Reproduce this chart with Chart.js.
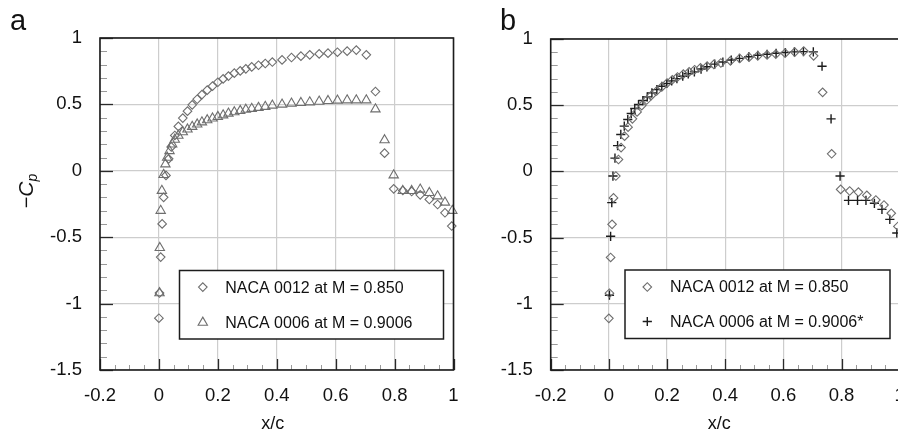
<!DOCTYPE html>
<html>
<head>
<meta charset="utf-8">
<script src="https://cdn.jsdelivr.net/npm/chart.js@4.4.1/dist/chart.umd.min.js"></script>
<style>
  html, body { margin: 0; padding: 0; background: #fff; overflow: hidden; width: 898px; height: 430px; }
  #wrap { position: relative; width: 898px; height: 430px; overflow: hidden; }
  canvas { position: absolute; top: 0; }
  #panelA { left: 0; }
  #panelB { left: 450px; }
</style>
</head>
<body>
<div id="wrap">
  <canvas id="panelA" width="460" height="430"></canvas>
  <canvas id="panelB" width="460" height="430"></canvas>
</div>
<script>
// Upper-surface pressure distributions, -Cp against x/c.

// NACA 0012 at M = 0.850
const naca0012X = [0.000, 0.002, 0.006, 0.011, 0.016, 0.024, 0.033, 0.042, 0.054, 0.066, 0.081, 0.097,
  0.113, 0.130, 0.146, 0.164, 0.182, 0.200, 0.218, 0.236, 0.256, 0.276, 0.295, 0.315, 0.338, 0.361,
  0.385, 0.418, 0.450, 0.482, 0.512, 0.544, 0.574, 0.606, 0.639, 0.670, 0.704, 0.735, 0.766, 0.797,
  0.828, 0.858, 0.887, 0.918, 0.946, 0.971, 0.994];
const naca0012Cp = [-1.11, -0.92, -0.65, -0.40, -0.20, -0.035, 0.09, 0.18, 0.266, 0.334, 0.397, 0.449,
  0.497, 0.539, 0.574, 0.607, 0.638, 0.667, 0.692, 0.713, 0.735, 0.752, 0.768, 0.782, 0.795, 0.808,
  0.819, 0.835, 0.853, 0.863, 0.873, 0.880, 0.886, 0.893, 0.901, 0.909, 0.873, 0.597, 0.133, -0.136,
  -0.148, -0.156, -0.181, -0.216, -0.254, -0.316, -0.416];

// NACA 0006 at M = 0.9006
const naca0006X = [0.002, 0.003, 0.006, 0.010, 0.016, 0.022, 0.028, 0.036, 0.045, 0.054, 0.066, 0.081,
  0.097, 0.113, 0.130, 0.146, 0.164, 0.182, 0.200, 0.218, 0.236, 0.256, 0.276, 0.295, 0.315, 0.338,
  0.361, 0.385, 0.418, 0.450, 0.482, 0.512, 0.544, 0.574, 0.606, 0.639, 0.670, 0.704, 0.735, 0.766,
  0.797, 0.828, 0.858, 0.887, 0.918, 0.946, 0.971, 0.996];
const naca0006Cp = [-0.92, -0.58, -0.30, -0.15, -0.03, 0.05, 0.10, 0.15, 0.20, 0.235, 0.265, 0.292,
  0.312, 0.332, 0.350, 0.366, 0.382, 0.395, 0.407, 0.419, 0.432, 0.442, 0.452, 0.461, 0.468, 0.475,
  0.483, 0.492, 0.500, 0.507, 0.512, 0.517, 0.522, 0.527, 0.530, 0.532, 0.532, 0.532, 0.464, 0.231,
  -0.033, -0.151, -0.151, -0.140, -0.166, -0.191, -0.238, -0.300];

// NACA 0006 at M = 0.9006, scaled (*)
const naca0006ScaledX = [0.002, 0.006, 0.010, 0.014, 0.021, 0.030, 0.041, 0.053, 0.065, 0.077, 0.089,
  0.102, 0.117, 0.132, 0.148, 0.165, 0.182, 0.199, 0.216, 0.234, 0.254, 0.273, 0.294, 0.317, 0.337,
  0.364, 0.392, 0.421, 0.449, 0.481, 0.512, 0.544, 0.575, 0.607, 0.638, 0.669, 0.703, 0.733, 0.764,
  0.795, 0.824, 0.855, 0.884, 0.913, 0.939, 0.966, 0.990];
const naca0006ScaledCp = [-0.935, -0.49, -0.236, -0.035, 0.10, 0.195, 0.279, 0.342, 0.392, 0.437, 0.475,
  0.505, 0.535, 0.563, 0.593, 0.618, 0.643, 0.664, 0.684, 0.701, 0.719, 0.737, 0.752, 0.773, 0.790,
  0.810, 0.826, 0.841, 0.854, 0.866, 0.877, 0.885, 0.892, 0.898, 0.903, 0.905, 0.903, 0.794, 0.397,
  -0.035, -0.219, -0.219, -0.219, -0.241, -0.287, -0.362, -0.465];

const xTicks = [-0.2, 0, 0.2, 0.4, 0.6, 0.8, 1];
const xTickLabels = ['-0.2', '0', '0.2', '0.4', '0.6', '0.8', '1'];
const yTicks = [-1.5, -1, -0.5, 0, 0.5, 1];
const yTickLabels = ['-1.5', '-1', '-0.5', '0', '0.5', '1'];

const labelsA = ['NACA 0012 at M = 0.850', 'NACA 0006 at M = 0.9006'];
const labelsB = ['NACA 0012 at M = 0.850', 'NACA 0006 at M = 0.9006*'];

const FONT = "'Liberation Sans', Arial, Helvetica, sans-serif";
const GREY = '#6e6e6e';
const INK = '#1c1c1c';

function points(xs, ys) { return xs.map((x, i) => ({ x: x, y: ys[i] })); }

function series(label, xs, ys, style) {
  return Object.assign({
    label: label,
    data: points(xs, ys),
    showLine: false,
    backgroundColor: 'rgba(0,0,0,0)',
    clip: false
  }, style);
}

const diamond = { pointStyle: 'rectRot', pointRadius: 4.3, pointBorderWidth: 1.1, borderColor: GREY, pointBorderColor: GREY };
const triangle = { pointStyle: 'triangle', pointRadius: 5.4, pointBorderWidth: 1.1, borderColor: GREY, pointBorderColor: GREY };
const plus = { pointStyle: 'cross', pointRadius: 4.6, pointBorderWidth: 1.4, borderColor: INK, pointBorderColor: INK };

// Frame, minor ticks, legend box and axis titles.
const framePlugin = {
  id: 'frame',
  afterDatasetsDraw(chart, args, opts) {
    const ctx = chart.ctx;
    const a = chart.chartArea;
    const xs = chart.scales.x, ys = chart.scales.y;
    ctx.save();

    // legend box
    const bw = opts.legend.w, bh = opts.legend.h;
    const bx = a.right - opts.legend.right - bw;
    const by = a.bottom - opts.legend.bottom - bh;
    ctx.fillStyle = '#fff';
    ctx.fillRect(bx, by, bw, bh);
    ctx.strokeStyle = INK;
    ctx.lineWidth = 1.5;
    ctx.strokeRect(bx, by, bw, bh);
    chart.data.datasets.forEach((ds, i) => {
      const cy = by + opts.legend.rowY[i];
      ctx.strokeStyle = ds.pointBorderColor;
      ctx.fillStyle = 'rgba(0,0,0,0)';
      ctx.lineWidth = ds.pointBorderWidth;
      Chart.helpers.drawPoint(ctx, { pointStyle: ds.pointStyle, radius: ds.pointRadius, rotation: 0, borderWidth: ds.pointBorderWidth }, bx + opts.legend.markerX, cy);
      ctx.fillStyle = '#111';
      ctx.font = '16px ' + FONT;
      ctx.textAlign = 'left';
      ctx.textBaseline = 'middle';
      ctx.fillText(ds.label, bx + opts.legend.textX, cy + 1);
    });

    // minor ticks (inside)
    ctx.strokeStyle = '#9a9a9a';
    ctx.lineWidth = 1;
    for (let k = -4; k <= 20; k++) {
      if (k % 4 === 0) continue;
      const px = Math.round(xs.getPixelForValue(k * 0.05)) + 0.5;
      if (px > a.right) continue;
      ctx.beginPath(); ctx.moveTo(px, a.bottom); ctx.lineTo(px, a.bottom - 5); ctx.stroke();
    }
    for (let k = -15; k <= 10; k++) {
      if (k % 5 === 0) continue;
      const py = Math.round(ys.getPixelForValue(k * 0.1)) + 0.5;
      ctx.beginPath(); ctx.moveTo(a.left, py); ctx.lineTo(a.left + 7, py); ctx.stroke();
    }
    // major ticks (inside)
    ctx.strokeStyle = '#2a2a2a';
    ctx.lineWidth = 1.3;
    xTicks.forEach(v => {
      const px = Math.round(xs.getPixelForValue(v)) + 0.5;
      ctx.beginPath(); ctx.moveTo(px, a.bottom); ctx.lineTo(px, a.bottom - 11); ctx.stroke();
    });
    yTicks.forEach(v => {
      const py = Math.round(ys.getPixelForValue(v)) + 0.5;
      ctx.beginPath(); ctx.moveTo(a.left, py); ctx.lineTo(a.left + 13, py); ctx.stroke();
    });

    // plot frame
    ctx.strokeStyle = INK;
    ctx.lineWidth = 1.6;
    ctx.strokeRect(a.left, a.top, a.right - a.left, a.bottom - a.top);

    // x-axis title
    ctx.fillStyle = '#111';
    ctx.font = '18px ' + FONT;
    ctx.textAlign = 'center';
    ctx.textBaseline = 'alphabetic';
    ctx.fillText('x/c', (a.left + a.right) / 2 + opts.xTitleShift, 428.5);

    // panel letter
    ctx.font = '29px ' + FONT;
    ctx.textAlign = 'left';
    ctx.fillText(opts.letter, opts.letterX, 30);

    // y-axis title: -C with subscript p
    if (opts.yTitle) {
      ctx.translate(33, 191);
      ctx.rotate(-Math.PI / 2);
      const parts = [
        { t: '\u2212', f: '20px ' + FONT, dy: 0 },
        { t: 'C', f: 'italic 21px ' + FONT, dy: 0 },
        { t: 'p', f: 'italic 14px ' + FONT, dy: 4 }
      ];
      let total = 0;
      parts.forEach(p => { ctx.font = p.f; p.w = ctx.measureText(p.t).width; total += p.w; });
      let cx = -total / 2;
      parts.forEach(p => { ctx.font = p.f; ctx.fillText(p.t, cx, p.dy); cx += p.w; });
    }
    ctx.restore();
  }
};

// Fixed axis boxes so the plot area sits where the layout puts it, with no label overhang margins.
function fixBox(size, key) {
  return s => {
    s[key] = size;
    s.paddingLeft = 0; s.paddingRight = 0; s.paddingTop = 0; s.paddingBottom = 0;
  };
}

function makePanel(id, datasets, cfg) {
  return new Chart(document.getElementById(id), {
    type: 'scatter',
    data: { datasets: datasets },
    options: {
      responsive: false,
      animation: false,
      events: [],
      layout: { padding: cfg.padding },
      plugins: { legend: { display: false }, tooltip: { enabled: false }, frame: cfg },
      scales: {
        x: {
          type: 'linear', min: -0.2, max: 1,
          afterBuildTicks: s => { s.ticks = xTicks.map(v => ({ value: v })); },
          afterFit: fixBox(cfg.xAxisHeight, 'height'),
          ticks: { callback: (v, i) => xTickLabels[i], font: { family: FONT, size: 18.5 }, color: '#111', padding: 15, maxRotation: 0, autoSkip: false },
          grid: { color: '#cdcdcd', lineWidth: 1.2, drawTicks: false },
          border: { display: false }
        },
        y: {
          type: 'linear', min: -1.5, max: 1,
          afterBuildTicks: s => { s.ticks = yTicks.map(v => ({ value: v })); },
          afterFit: fixBox(cfg.yAxisWidth, 'width'),
          ticks: { callback: (v, i) => yTickLabels[i], font: { family: FONT, size: 18.5 }, color: '#111', padding: 18, autoSkip: false },
          grid: { color: '#cdcdcd', lineWidth: 1.2, drawTicks: false },
          border: { display: false }
        }
      }
    },
    plugins: [framePlugin]
  });
}

makePanel('panelA', [
  series(labelsA[0], naca0012X, naca0012Cp, diamond),
  series(labelsA[1], naca0006X, naca0006Cp, triangle)
], {
  padding: { left: 0, right: 5, top: 38, bottom: 0 },
  yAxisWidth: 100, xAxisHeight: 60,
  legend: { w: 264, h: 68.5, right: 10, bottom: 31, markerX: 23.3, textX: 45.7, rowY: [16.6, 52] },
  letter: 'a', letterX: 10, xTitleShift: -4, yTitle: true
});

makePanel('panelB', [
  series(labelsB[0], naca0012X, naca0012Cp, diamond),
  series(labelsB[1], naca0006ScaledX, naca0006ScaledCp, plus)
], {
  padding: { left: 0, right: 10.3, top: 39, bottom: 0 },
  yAxisWidth: 100.7, xAxisHeight: 60,
  legend: { w: 265, h: 68.5, right: 9.7, bottom: 31.5, markerX: 22.3, textX: 45, rowY: [17, 51.5] },
  letter: 'b', letterX: 50, xTitleShift: -6, yTitle: false
});
</script>
</body>
</html>
